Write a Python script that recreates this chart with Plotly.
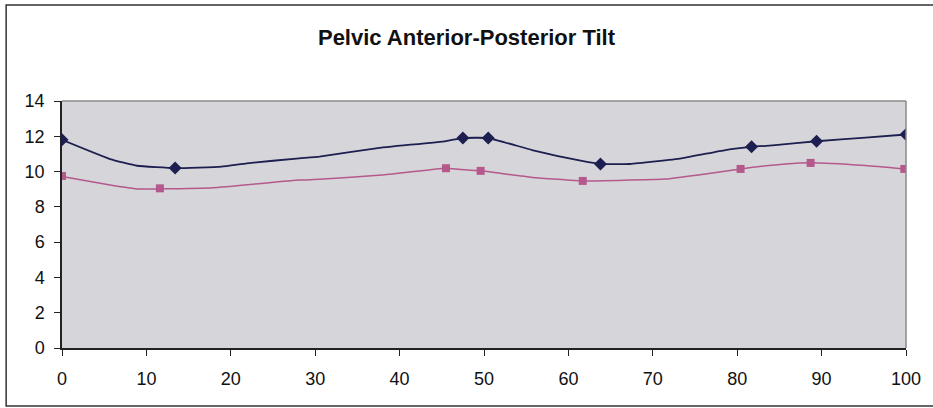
import plotly.graph_objects as go

# Series A (dark): marker points
a_mx = [0, 13.4, 47.5, 50.5, 63.8, 81.7, 89.4, 100]
a_my = [11.8, 10.2, 11.9, 11.9, 10.43, 11.4, 11.72, 12.1]
# Series A traced curve
a_lx = [0, 5.7, 8.9, 13.4, 18.9, 21.9, 28.1, 30.5, 37.2, 45.5, 47.5, 50.5, 55.7, 61.6, 63.8, 67.3, 73.4, 78.6, 81.7, 84.5, 89.4, 95.2, 100]
a_ly = [11.8, 10.71, 10.33, 10.2, 10.28, 10.47, 10.75, 10.85, 11.32, 11.73, 11.9, 11.9, 11.22, 10.6, 10.43, 10.43, 10.75, 11.22, 11.4, 11.5, 11.72, 11.92, 12.1]

# Series B (pink): marker points
b_mx = [0, 11.6, 45.5, 49.6, 61.7, 80.4, 88.7, 99.8]
b_my = [9.75, 9.05, 10.19, 10.04, 9.47, 10.15, 10.49, 10.15]
b_lx = [0, 5.7, 9.1, 11.6, 17.9, 28.1, 30.5, 37.9, 45.5, 47.0, 49.6, 55.7, 61.7, 67.1, 71.5, 75.4, 80.4, 85.7, 88.7, 95.2, 99.8]
b_ly = [9.72, 9.24, 9.01, 9.02, 9.09, 9.52, 9.56, 9.81, 10.19, 10.13, 10.04, 9.67, 9.47, 9.52, 9.58, 9.81, 10.15, 10.43, 10.5, 10.34, 10.15]

x_ticks = [0, 10, 20, 30, 40, 50, 60, 70, 80, 90, 100]
y_ticks = [0, 2, 4, 6, 8, 10, 12, 14]

dark = "#1c1f4f"
pink = "#b5588c"

fig = go.Figure()
fig.add_trace(go.Scatter(x=a_lx, y=a_ly, mode="lines", line=dict(color=dark, width=1.8, shape="spline", smoothing=0.4), hoverinfo="skip"))
fig.add_trace(go.Scatter(x=b_lx, y=b_ly, mode="lines", line=dict(color=pink, width=1.5, shape="spline", smoothing=0.4), hoverinfo="skip"))
fig.add_trace(go.Scatter(x=a_mx, y=a_my, mode="markers", marker=dict(symbol="diamond", size=10, color=dark)))
fig.add_trace(go.Scatter(x=b_mx, y=b_my, mode="markers", marker=dict(symbol="square", size=8, color=pink)))

fig.update_layout(
    width=933, height=408,
    margin=dict(l=62, r=25, t=101, b=60),
    paper_bgcolor="white",
    plot_bgcolor="#d6d6da",
    showlegend=False,
    title=dict(text="<b>Pelvic Anterior-Posterior Tilt</b>", x=(316 + 617) / 2 / 933, xanchor="center", y=1 - 37 / 408, yanchor="middle",
               font=dict(family="Liberation Sans, Arial", size=22, color="#111")),
    font=dict(family="Liberation Sans, Arial", size=18, color="#111"),
)
fig.update_xaxes(range=[0, 100], tickvals=x_ticks, ticks="outside", ticklen=6, tickcolor="#222",
                 showgrid=False, zeroline=False, showline=True, linecolor="#222", linewidth=1.5,
                 tickfont=dict(size=18), ticklabelstandoff=8)
fig.update_yaxes(range=[0, 14], tickvals=y_ticks, ticks="outside", ticklen=6, tickcolor="#222",
                 showgrid=False, zeroline=False, showline=True, linecolor="#222", linewidth=1.5,
                 tickfont=dict(size=18), ticklabelstandoff=6)

# plot-area top/right border (gray)
fig.add_shape(type="line", xref="paper", yref="paper", x0=0, x1=1, y0=1, y1=1, line=dict(color="#8a8a8a", width=1.5))
fig.add_shape(type="line", xref="paper", yref="paper", x0=1, x1=1, y0=0, y1=1, line=dict(color="#8a8a8a", width=1.5))
# outer chart frame
fig.add_shape(type="rect", xref="paper", yref="paper",
              x0=(6 - 62) / 846, x1=(940 - 62) / 846, y0=(348 - 406) / 247, y1=(348 - 5) / 247,
              line=dict(color="#333", width=1.5), fillcolor="rgba(0,0,0,0)")

fig.write_html("out.html")
